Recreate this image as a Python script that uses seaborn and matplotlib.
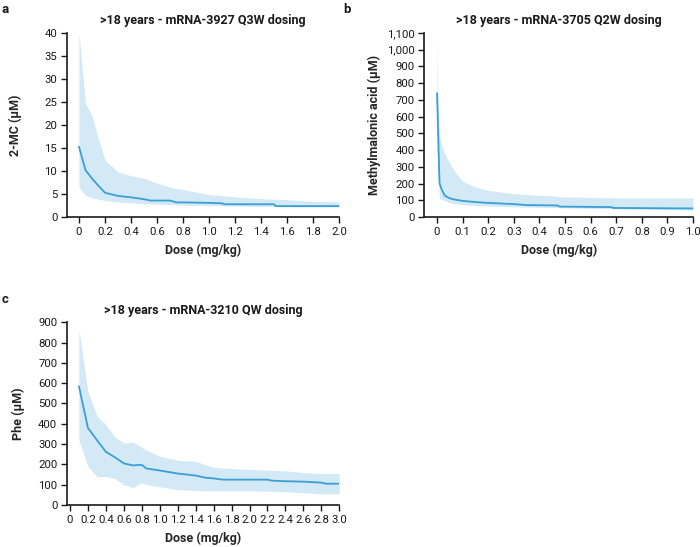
import numpy as np
import pandas as pd
import seaborn as sns
import matplotlib.pyplot as plt
from matplotlib.ticker import FuncFormatter

# Panel a: 2-MC, mRNA-3927 Q3W
a_dose = [0, 0.05, 0.1, 0.15, 0.2, 0.3, 0.4, 0.5, 0.55, 0.6, 0.7, 0.75, 0.8, 1.0, 1.1, 1.12, 1.2, 1.4, 1.5, 1.51, 1.6, 1.8, 2.0]
a_median = [15.3, 10.2, 8.4, 6.8, 5.3, 4.6, 4.3, 3.9, 3.6, 3.6, 3.6, 3.2, 3.2, 3.1, 3.0, 2.8, 2.8, 2.8, 2.8, 2.4, 2.4, 2.4, 2.4]
a_upper = [40, 24.7, 22, 17, 12.4, 9.8, 9.0, 8.4, 7.9, 7.4, 6.5, 6.2, 6.0, 4.9, 4.7, 4.6, 4.4, 4.0, 3.9, 3.9, 3.8, 3.4, 3.3]
a_lower = [6.5, 4.7, 4.2, 3.9, 3.6, 3.3, 3.1, 2.9, 2.9, 2.8, 2.7, 2.7, 2.6, 2.5, 2.5, 2.4, 2.4, 2.3, 2.3, 2.3, 2.2, 2.2, 2.2]

# Panel b: methylmalonic acid, mRNA-3705 Q2W
b_dose = [0, 0.002, 0.005, 0.008, 0.01, 0.02, 0.03, 0.04, 0.05, 0.07, 0.1, 0.15, 0.2, 0.3, 0.35, 0.47, 0.48, 0.68, 0.69, 1.0]
b_median = [740, 650, 470, 300, 200, 160, 130, 120, 112, 105, 97, 90, 85, 78, 72, 70, 63, 60, 55, 52]
b_upper = [1070, 850, 620, 530, 480, 420, 380, 350, 320, 270, 215, 180, 160, 140, 135, 125, 122, 115, 115, 115]
b_lower = [420, 330, 250, 160, 115, 105, 98, 92, 86, 80, 75, 70, 66, 62, 60, 57, 56, 50, 50, 42]

# Panel c: Phe, mRNA-3210 QW
c_dose = [0.1, 0.2, 0.3, 0.4, 0.5, 0.6, 0.7, 0.8, 0.85, 1.0, 1.2, 1.4, 1.5, 1.6, 1.7, 2.0, 2.2, 2.25, 2.4, 2.6, 2.8, 2.85, 3.0]
c_median = [585, 380, 320, 262, 235, 205, 195, 198, 180, 170, 155, 145, 135, 131, 125, 125, 125, 120, 117, 115, 110, 105, 105]
c_upper = [865, 560, 440, 395, 335, 305, 310, 285, 270, 240, 220, 215, 200, 185, 182, 175, 172, 170, 168, 160, 155, 155, 155]
c_lower = [320, 190, 140, 140, 130, 100, 85, 110, 100, 90, 75, 72, 70, 70, 70, 70, 68, 67, 65, 60, 55, 55, 55]

LINE = '#3a9fd6'
BAND = '#d3eaf6'
FONT = ['Roboto', 'DejaVu Sans']

sns.set_style('ticks')
plt.rcParams['font.family'] = FONT
plt.rcParams['text.color'] = '#1a1a1a'

fig = plt.figure(figsize=(7, 5.47), dpi=100)

panels = [
    ('a', [0.0957, 0.603, 0.389, 0.337], (0.002, 0.9835), -0.165, a_dose, a_median, a_upper, a_lower,
     '>18 years - mRNA-3927 Q3W dosing', '2-MC (\u03bcM)',
     (-0.092, 2.0), np.arange(0, 2.01, 0.2), (0, 40), np.arange(0, 41, 5), False),
    ('b', [0.606, 0.603, 0.384, 0.337], (0.49, 0.9835), -0.16, b_dose, b_median, b_upper, b_lower,
     '>18 years - mRNA-3705 Q2W dosing', 'Methylmalonic acid (\u03bcM)',
     (-0.05, 1.0), np.arange(0, 1.01, 0.1), (0, 1100), np.arange(0, 1101, 100), True),
    ('c', [0.0957, 0.0768, 0.389, 0.334], (0.002, 0.4516), -0.154, c_dose, c_median, c_upper, c_lower,
     '>18 years - mRNA-3210 QW dosing', 'Phe (\u03bcM)',
     (-0.033, 3.0), np.arange(0, 3.01, 0.2), (0, 900), np.arange(0, 901, 100), False),
]

for (letter, rect, lpos, ylx, dose, med, up, lo, title, ylabel,
     xlim, xticks, ylim, yticks, comma) in panels:
    ax = fig.add_axes(rect)
    df = pd.DataFrame({'dose': dose, 'median': med, 'upper': up, 'lower': lo})
    ax.fill_between(df['dose'], df['lower'], df['upper'], color=BAND, linewidth=0)
    sns.lineplot(data=df, x='dose', y='median', ax=ax, color=LINE, linewidth=1.3)
    ax.set_xlim(*xlim)
    ax.set_ylim(*ylim)
    ax.set_xticks(xticks)
    ax.set_xticklabels(['0' if t == 0 else f'{t:.1f}' for t in xticks])
    ax.set_yticks(yticks)
    if comma:
        ax.yaxis.set_major_formatter(FuncFormatter(lambda v, p: f'{int(v):,}'))
    sns.despine(ax=ax)
    for side in ['left', 'bottom']:
        ax.spines[side].set_linewidth(1.2)
        ax.spines[side].set_color('#1a1a1a')
    ax.tick_params(axis='both', labelsize=8.2, length=4.5, width=1, pad=2.5, colors='#1a1a1a')
    ax.set_xlabel('Dose (mg/kg)', fontsize=9, fontweight='bold', labelpad=5)
    ax.set_ylabel(ylabel, fontsize=9, fontweight='bold')
    ax.yaxis.set_label_coords(ylx, 0.5)
    ax.set_title(title, fontsize=9, fontweight='bold', pad=6)
    fig.text(lpos[0], lpos[1], letter, fontsize=9.5, fontweight='bold', va='center', ha='left')

fig.savefig('out.png', dpi=100)
